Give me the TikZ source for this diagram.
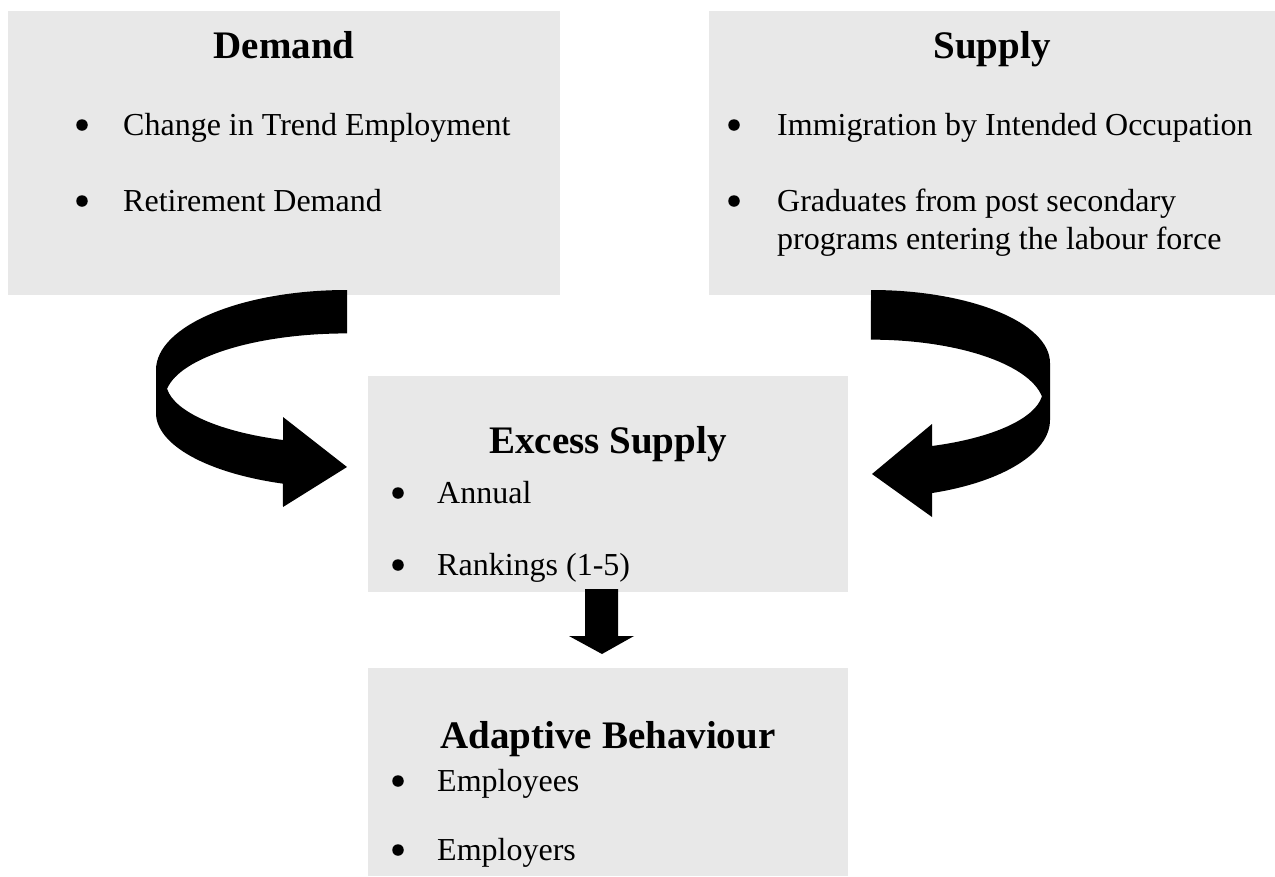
\documentclass[tikz,border=0pt]{standalone}
\usepackage{fontspec}
\setmainfont{Liberation Serif}
\definecolor{boxgray}{RGB}{232,232,232}
\begin{document}
\begin{tikzpicture}[x=1pt,y=-1pt,
  box/.style={fill=boxgray, draw=none, inner sep=0, outer sep=0, anchor=north west},
  boxtitle/.style={font=\fontsize{39}{47}\selectfont\bfseries, anchor=base, inner sep=0},
  item/.style={font=\fontsize{32}{38}\selectfont, anchor=base west, inner sep=0},
  dot/.style={circle, fill=black, draw=none, inner sep=0, minimum size=11.5pt},
  bigarrow/.style={fill=black, draw=none}]
\useasboundingbox (0,0) rectangle (1275,876);
% boxes
\node[box, minimum width=552pt, minimum height=284pt] (demand) at (8,11) {};
\node[box, minimum width=566pt, minimum height=284pt] (supply) at (709,11) {};
\node[box, minimum width=480pt, minimum height=216pt] (excess) at (368,376) {};
\node[box, minimum width=480pt, minimum height=208pt] (adapt) at (368,668) {};
% Demand
\node[boxtitle] (dt) at (284,58) {Demand};
\node[dot] (db1) at (82,125) {};
\node[item] (dl1) at (123,135) {Change in Trend Employment};
\node[dot] (db2) at (82,201) {};
\node[item] (dl2) at (123,211) {Retirement Demand};
% Supply
\node[boxtitle] (st) at (992,58) {Supply};
\node[dot] (sb1) at (734,125) {};
\node[item] (sl1) at (777,135) {Immigration by Intended Occupation};
\node[dot] (sb2) at (734,201) {};
\node[item] (sl2) at (777,211) {Graduates from post secondary};
\node[item] (sl3) at (777,249) {programs entering the labour force};
% Excess supply
\node[boxtitle] (et) at (608,453) {Excess Supply};
\node[dot] (eb1) at (398,493) {};
\node[item] (el1) at (437,503) {Annual};
\node[dot] (eb2) at (398,565) {};
\node[item] (el2) at (437,575) {Rankings (1-5)};
% Adaptive behaviour
\node[boxtitle] (at) at (608,748) {Adaptive Behaviour};
\node[dot] (ab1) at (398,781) {};
\node[item] (al1) at (437,791) {Employees};
\node[dot] (ab2) at (398,850) {};
\node[item] (al2) at (437,860) {Employers};
% left curved arrow (demand -> excess)
\fill[bigarrow] (347,290)
  arc[start angle=90, end angle=180, x radius=191pt, y radius=80pt]
  -- (156,413)
  arc[start angle=180, end angle=250.4, x radius=191pt, y radius=75pt]
  -- (283,507) -- (347,467) -- (283,417) -- (283,440)
  arc[start angle=249.3, end angle=186.3, x radius=181pt, y radius=62pt]
  arc[start angle=171.5, end angle=90, x radius=182pt, y radius=65pt]
  -- cycle;
% right curved arrow (supply -> excess)
\fill[bigarrow] (871,290)
  arc[start angle=90, end angle=0, x radius=179pt, y radius=73pt]
  -- (1050,420)
  arc[start angle=0, end angle=-70.06, x radius=179pt, y radius=77.7pt]
  -- (932,517) -- (872,474) -- (932,424) -- (932,446)
  arc[start angle=-69.2, end angle=-6.2, x radius=172pt, y radius=60pt]
  arc[start angle=8.8, end angle=90, x radius=173pt, y radius=67pt]
  -- cycle;
% down arrow (excess -> adaptive)
\fill[bigarrow] (585,589) -- (618,589) -- (618,636) -- (634,636) -- (602,654) -- (569,636) -- (585,636) -- cycle;
\end{tikzpicture}
\end{document}
